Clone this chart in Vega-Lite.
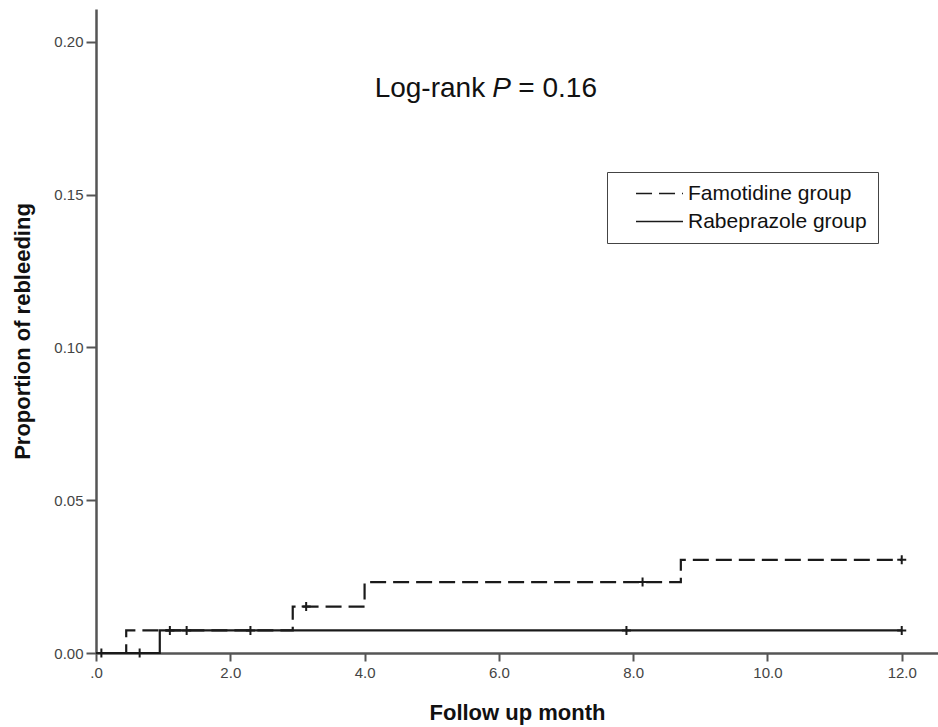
{
  "$schema": "https://vega.github.io/schema/vega-lite/v6.json",
  "width": 842,
  "height": 644,
  "autosize": {"type": "none"},
  "padding": {"left": 96, "top": 9, "right": 0, "bottom": 74},
  "background": "white",
  "config": {"view": {"stroke": null}, "font": "Liberation Sans"},
  "datasets": {
    "steps": [
      {"group": "Famotidine group", "month": 0, "proportion": 0},
      {"group": "Famotidine group", "month": 0.45, "proportion": 0.0074},
      {"group": "Famotidine group", "month": 2.93, "proportion": 0.0152},
      {"group": "Famotidine group", "month": 4.0, "proportion": 0.0232},
      {"group": "Famotidine group", "month": 8.71, "proportion": 0.0305},
      {"group": "Famotidine group", "month": 12.0, "proportion": 0.0305},
      {"group": "Rabeprazole group", "month": 0, "proportion": 0},
      {"group": "Rabeprazole group", "month": 0.95, "proportion": 0.0074},
      {"group": "Rabeprazole group", "month": 12.0, "proportion": 0.0074}
    ],
    "censor": [
      {"group": "Famotidine group", "month": 0.08, "proportion": 0},
      {"group": "Rabeprazole group", "month": 0.65, "proportion": 0},
      {"group": "Famotidine group", "month": 1.1, "proportion": 0.0074},
      {"group": "Famotidine group", "month": 1.35, "proportion": 0.0074},
      {"group": "Famotidine group", "month": 2.3, "proportion": 0.0074},
      {"group": "Famotidine group", "month": 3.13, "proportion": 0.0152},
      {"group": "Rabeprazole group", "month": 7.9, "proportion": 0.0074},
      {"group": "Famotidine group", "month": 8.14, "proportion": 0.0232},
      {"group": "Famotidine group", "month": 12.0, "proportion": 0.0305},
      {"group": "Rabeprazole group", "month": 12.0, "proportion": 0.0074}
    ],
    "notes": [
      {"part": "a", "label": "Log-rank", "month": 4.15, "proportion": 0.182},
      {"part": "b", "label": "P", "month": 5.9, "proportion": 0.182},
      {"part": "c", "label": "= 0.16", "month": 6.29, "proportion": 0.182}
    ]
  },
  "layer": [
    {
      "data": {"name": "steps"},
      "mark": {"type": "line", "interpolate": "step-after", "strokeWidth": 2.2, "color": "#1a1a1a"},
      "encoding": {
        "x": {
          "field": "month", "type": "quantitative",
          "scale": {"domain": [0, 12.54], "nice": false, "zero": false},
          "axis": {
            "title": "Follow up month", "values": [0, 2, 4, 6, 8, 10, 12],
            "labelExpr": "datum.value == 0 ? '.0' : format(datum.value, '.1f')",
            "grid": false, "domainColor": "#555", "domainWidth": 2.5, "tickColor": "#555", "tickWidth": 2, "tickSize": 8,
            "labelFontSize": 15, "labelColor": "#444", "labelPadding": 4, "labelFlush": false,
            "titleFontSize": 22, "titleFontWeight": "bold", "titleColor": "#111", "titlePadding": 22
          }
        },
        "y": {
          "field": "proportion", "type": "quantitative",
          "scale": {"domain": [0, 0.2108], "nice": false, "zero": false},
          "axis": {
            "title": "Proportion of rebleeding", "values": [0, 0.05, 0.1, 0.15, 0.2], "format": ".2f",
            "grid": false, "domainColor": "#555", "domainWidth": 2.5, "tickColor": "#555", "tickWidth": 2, "tickSize": 10,
            "labelFontSize": 15, "labelColor": "#444", "labelPadding": 3,
            "titleFontSize": 22, "titleFontWeight": "bold", "titleColor": "#111", "titlePadding": 19
          }
        },
        "strokeDash": {
          "field": "group", "type": "nominal",
          "scale": {"domain": ["Famotidine group", "Rabeprazole group"], "range": [[16, 7], [1, 0]]},
          "legend": {
            "orient": "none", "legendX": 511, "legendY": 163, "title": null,
            "symbolType": "M-3,0H3", "symbolSize": 245, "symbolStrokeWidth": 1.5, "symbolStrokeColor": "#1a1a1a",
            "labelFontSize": 21, "labelColor": "#111", "labelOffset": 18, "labelLimit": 400,
            "strokeColor": "#444", "padding": 11, "symbolOffset": 31, "rowPadding": 6
          }
        }
      }
    },
    {
      "data": {"name": "censor"},
      "mark": {"type": "point", "shape": "M-1,0H1M0,-1V1", "size": 81, "strokeWidth": 2, "color": "#1a1a1a", "filled": false, "opacity": 1},
      "encoding": {
        "x": {"field": "month", "type": "quantitative"},
        "y": {"field": "proportion", "type": "quantitative"}
      }
    },
    {
      "data": {"name": "notes"},
      "transform": [{"filter": "datum.part != 'b'"}],
      "mark": {"type": "text", "align": "left", "baseline": "alphabetic", "fontSize": 28, "color": "#111"},
      "encoding": {
        "x": {"field": "month", "type": "quantitative"},
        "y": {"field": "proportion", "type": "quantitative"},
        "text": {"field": "label"}
      }
    },
    {
      "data": {"name": "notes"},
      "transform": [{"filter": "datum.part == 'b'"}],
      "mark": {"type": "text", "align": "left", "baseline": "alphabetic", "fontSize": 28, "fontStyle": "italic", "color": "#111"},
      "encoding": {
        "x": {"field": "month", "type": "quantitative"},
        "y": {"field": "proportion", "type": "quantitative"},
        "text": {"field": "label"}
      }
    },
    {
      "mark": {"type": "rule", "stroke": "#555", "strokeWidth": 2.5},
      "encoding": {"y": {"datum": 0.2108, "type": "quantitative"}}
    }
  ]
}
